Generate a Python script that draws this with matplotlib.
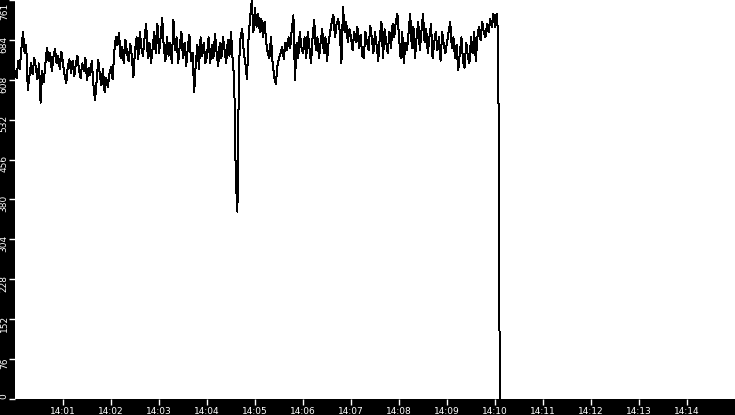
import matplotlib
matplotlib.use("Agg")
import matplotlib.pyplot as plt
import matplotlib.transforms as mtransforms
import pandas as pd
import numpy as np

# ---- data (one sample every 2 s) ----
m0 = [625, 612, 645, 630, 668, 700, 660, 675, 590, 615, 640, 620, 650, 632, 610, 640, 565, 625, 605, 640, 670, 645, 660, 625, 652, 668, 640, 655, 630, 662]
m1 = [640, 618, 602, 635, 648, 622, 645, 615, 638, 655, 628, 612, 640, 625, 650, 608, 632, 618, 645, 600, 570, 605, 646, 620, 598, 630, 585, 612, 595, 620]
m2 = [633, 610, 660, 690, 675, 698, 650, 672, 640, 685, 660, 645, 678, 655, 614, 665, 690, 648, 700, 670, 655, 690, 715, 650, 680, 640, 668, 700, 660, 715]
m3 = [660, 690, 726, 670, 645, 690, 655, 680, 640, 723, 665, 690, 640, 675, 700, 650, 680, 635, 670, 695, 645, 660, 585, 640, 675, 630, 690, 655, 680, 640]
m4 = [655, 690, 640, 675, 650, 697, 660, 635, 680, 650, 690, 665, 640, 685, 655, 700, 648, 610, 420, 357, 640, 690, 705, 660, 640, 610, 690, 730, 761, 700]
m5 = [745, 710, 735, 700, 725, 690, 720, 680, 660, 650, 690, 640, 615, 600, 635, 650, 660, 672, 648, 680, 665, 690, 670, 705, 732, 608, 680, 650, 700, 672]
m6 = [660, 690, 650, 700, 670, 640, 690, 723, 665, 690, 650, 680, 705, 660, 690, 645, 680, 700, 720, 732, 690, 715, 725, 700, 640, 748, 700, 720, 680, 705]
m7 = [690, 665, 700, 680, 710, 670, 695, 655, 650, 700, 680, 665, 712, 690, 660, 700, 675, 645, 690, 720, 650, 705, 680, 660, 700, 670, 715, 690, 720, 735]
m8 = [690, 650, 700, 640, 680, 665, 700, 735, 670, 710, 650, 690, 720, 665, 700, 735, 680, 705, 660, 690, 715, 650, 680, 700, 665, 690, 645, 700, 675, 660]
m9 = [680, 700, 720, 670, 690, 650, 675, 627, 660, 690, 645, 632, 680, 655, 640, 690, 660, 700, 645, 690, 710, 685, 720, 700, 690, 715, 700, 725, 710, 735]
tail_seconds = [600, 602, 604, 605, 606]
tail_values = [710, 735, 695, 350, 0]

start_time = "2024-01-01 14:00:00"
end_time = "2024-01-01 14:15:00"
y_max = 761
x_tick_labels = ["14:01", "14:02", "14:03", "14:04", "14:05", "14:06", "14:07",
                 "14:08", "14:09", "14:10", "14:11", "14:12", "14:13", "14:14"]

values = m0 + m1 + m2 + m3 + m4 + m5 + m6 + m7 + m8 + m9
seconds = list(range(0, 2 * len(values), 2)) + tail_seconds
values = values + tail_values

t0 = pd.Timestamp(start_time)
times = [t0 + pd.Timedelta(seconds=s) for s in seconds]

# ---- figure ----
W, H = 735, 415
fig = plt.figure(figsize=(W / 100, H / 100), dpi=100, facecolor="black")
ax = fig.add_axes([15 / W, 16 / H, 720 / W, 399 / H])
ax.set_facecolor("white")
for s in ax.spines.values():
    s.set_visible(False)

ax.plot(times, values, color="black", linewidth=0.72, antialiased=False)

ax.set_xlim(pd.Timestamp(start_time), pd.Timestamp(end_time))
ax.set_ylim(0, y_max)

xticks = [t0 + pd.Timedelta(minutes=i + 1) for i in range(len(x_tick_labels))]
ax.set_xticks(xticks)
ax.set_xticklabels(x_tick_labels)

yticks = np.linspace(0, y_max, 11)
ax.set_yticks(yticks)
ax.set_yticklabels([str(int(v)) for v in yticks])

ax.tick_params(axis="both", colors="white", labelcolor="white", labelsize=6.5,
               length=4, width=1, direction="out", pad=0.5)
ax.tick_params(axis="x", pad=1.5)

fam = "DejaVu Sans"
for lbl in ax.get_xticklabels():
    lbl.set_family(fam)
ylabels = ax.get_yticklabels()
n = len(ylabels)
for i, lbl in enumerate(ylabels):
    lbl.set_family(fam)
    lbl.set_rotation(90)
    if i == 0:
        lbl.set_va("bottom")
    elif i == n - 1:
        lbl.set_va("top")
        lbl.set_transform(lbl.get_transform() +
                          mtransforms.ScaledTranslation(0, -2 / 72, fig.dpi_scale_trans))
    else:
        lbl.set_va("center")
        lbl.set_transform(lbl.get_transform() +
                          mtransforms.ScaledTranslation(0, -3 / 72, fig.dpi_scale_trans))

fig.savefig("out.png", dpi=100, facecolor="black")
